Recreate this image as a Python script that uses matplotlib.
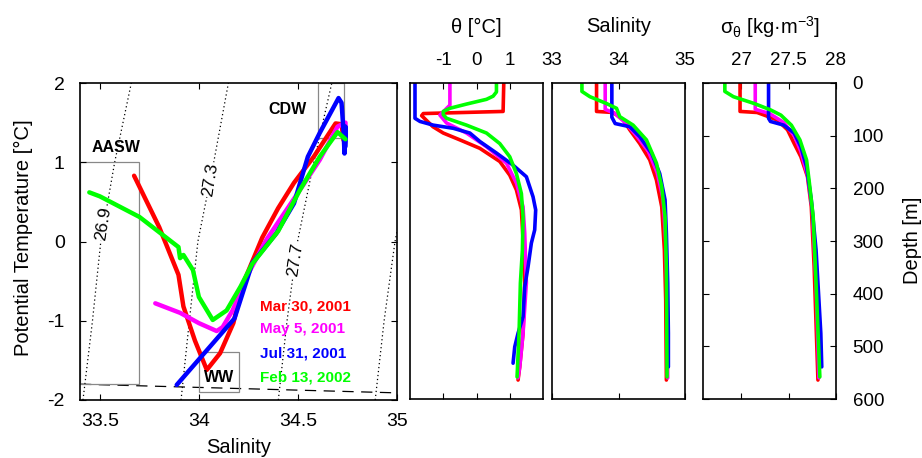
import matplotlib
matplotlib.use("Agg")
import matplotlib.pyplot as plt
from matplotlib.patches import Rectangle

plt.rcParams['font.family'] = ['Liberation Sans', 'DejaVu Sans']
plt.rcParams['mathtext.fontset'] = 'custom'
plt.rcParams['mathtext.rm'] = 'Liberation Sans'
plt.rcParams['mathtext.it'] = 'Liberation Sans:italic'
plt.rcParams['mathtext.bf'] = 'Liberation Sans:bold'

# ---------------- data ----------------
dates = ["Mar 30, 2001", "May 5, 2001", "Jul 31, 2001", "Feb 13, 2002"]
colors = ["#ff0000", "#ff00ff", "#0000ff", "#00ff00"]

# T-S diagram (salinity, potential temperature)
ts_mar_S = [33.673, 33.80, 33.897, 33.922, 33.98, 34.04, 34.107, 34.174, 34.22, 34.32, 34.40, 34.48, 34.58, 34.69, 34.72, 34.73]
ts_mar_T = [0.83, 0.18, -0.42, -0.82, -1.25, -1.62, -1.41, -1.03, -0.55, 0.05, 0.42, 0.74, 1.07, 1.49, 1.48, 1.28]
ts_may_S = [33.78, 33.905, 34.0, 34.09, 34.12, 34.17, 34.24, 34.34, 34.51, 34.61, 34.70, 34.74, 34.74]
ts_may_T = [-0.78, -0.90, -1.03, -1.13, -1.08, -0.87, -0.45, 0.02, 0.65, 1.03, 1.45, 1.50, 1.30]
ts_jul_S = [33.888, 34.18, 34.27, 34.39, 34.48, 34.55, 34.61, 34.705, 34.72, 34.73, 34.735, 34.74, 34.74]
ts_jul_T = [-1.81, -0.97, -0.27, 0.10, 0.48, 1.07, 1.37, 1.81, 1.75, 1.40, 1.11, 1.45, 1.20]
ts_feb_S = [33.447, 33.50, 33.70, 33.897, 33.905, 33.922, 33.97, 34.00, 34.07, 34.14, 34.21, 34.27, 34.40, 34.51, 34.61, 34.70, 34.74]
ts_feb_T = [0.62, 0.57, 0.31, -0.07, -0.21, -0.17, -0.36, -0.70, -0.99, -0.87, -0.57, -0.28, 0.13, 0.65, 1.07, 1.38, 1.29]

# isopycnals (sigma-theta) at T = -2..2
iso_T = [-2, -1, 0, 1, 2]
iso_levels = ["26.9", "27.3", "27.7", "28.1"]
iso_S = [
    [33.415, 33.463, 33.505, 33.575, 33.659],
    [33.910, 33.952, 33.995, 34.075, 34.149],
    [34.401, 34.445, 34.498, 34.580, 34.671],
    [34.890, 34.935, 34.990, 35.070, 35.160],
]
iso_label_pos = [(33.516, 0.23), (34.057, 0.78), (34.486, -0.23)]

# freezing line
frz_S = [33.4, 35.0]
frz_T = [-1.80, -1.91]

# water-mass boxes: (S0, T0, S1, T1)
boxes = {"AASW": (33.40, -1.80, 33.70, 1.00),
         "WW": (34.00, -1.90, 34.20, -1.39),
         "CDW": (34.60, 1.30, 34.735, 2.00)}
box_labels = {"AASW": (33.58, 1.18), "WW": (34.10, -1.72), "CDW": (34.445, 1.66)}

# profiles: depth [m]
th_mar_d = [0, 54, 58, 62, 83, 95, 108, 124, 149, 175, 203, 241, 298, 380, 475, 539, 564]
th_mar_v = [0.82, 0.80, -1.60, -1.65, -1.31, -1.0, -0.5, 0.1, 0.7, 1.0, 1.2, 1.35, 1.4, 1.45, 1.4, 1.3, 1.25]
th_may_d = [0, 42, 61, 76, 95, 121, 152, 190, 235, 285, 380, 475, 539, 560]
th_may_v = [-0.8, -0.8, -1.1, -0.9, -0.3, 0.3, 0.9, 1.2, 1.4, 1.45, 1.5, 1.4, 1.3, 1.25]
th_jul_d = [0, 67, 73, 80, 86, 95, 111, 133, 156, 178, 216, 241, 279, 304, 349, 387, 444, 475, 501, 532]
th_jul_v = [-1.85, -1.85, -1.7, -1.3, -0.7, -0.2, 0.1, 0.6, 1.1, 1.5, 1.7, 1.78, 1.75, 1.65, 1.55, 1.45, 1.4, 1.25, 1.15, 1.1]
th_feb_d = [0, 17, 25, 31, 40, 48, 54, 60, 67, 80, 95, 115, 140, 172, 210, 254, 317, 380, 475, 558]
th_feb_v = [0.6, 0.6, 0.5, 0.3, -0.3, -0.8, -1.0, -1.0, -0.9, -0.3, 0.3, 0.7, 1.0, 1.2, 1.35, 1.4, 1.38, 1.32, 1.28, 1.22]

sa_mar_d = [0, 54, 56, 70, 89, 115, 146, 184, 235, 317, 412, 564]
sa_mar_v = [33.67, 33.67, 33.92, 34.07, 34.17, 34.32, 34.47, 34.57, 34.65, 34.69, 34.71, 34.72]
sa_may_d = [0, 50, 58, 75, 100, 130, 170, 220, 300, 400, 560]
sa_may_v = [33.80, 33.80, 33.95, 34.10, 34.27, 34.45, 34.58, 34.67, 34.71, 34.73, 34.74]
sa_jul_d = [0, 65, 77, 83, 102, 134, 172, 222, 285, 380, 475, 539]
sa_jul_v = [33.90, 33.90, 33.95, 34.17, 34.32, 34.50, 34.62, 34.70, 34.72, 34.74, 34.75, 34.75]
sa_feb_d = [0, 16, 26, 39, 48, 64, 80, 108, 152, 197, 254, 349, 558]
sa_feb_v = [33.45, 33.45, 33.57, 33.82, 33.97, 34.02, 34.22, 34.42, 34.57, 34.65, 34.70, 34.72, 34.73]

sg_mar_d = [0, 54, 56, 70, 89, 115, 140, 178, 235, 349, 564]
sg_mar_v = [26.99, 26.99, 27.17, 27.38, 27.49, 27.56, 27.63, 27.70, 27.74, 27.77, 27.81]
sg_may_d = [0, 50, 58, 75, 100, 130, 175, 240, 380, 560]
sg_may_v = [27.15, 27.15, 27.30, 27.45, 27.56, 27.63, 27.70, 27.75, 27.79, 27.82]
sg_jul_d = [0, 67, 73, 80, 95, 121, 159, 222, 317, 475, 539]
sg_jul_v = [27.29, 27.29, 27.31, 27.45, 27.56, 27.63, 27.69, 27.74, 27.79, 27.84, 27.85]
sg_feb_d = [0, 16, 26, 39, 51, 61, 80, 108, 146, 190, 254, 380, 558]
sg_feb_v = [26.83, 26.83, 26.92, 27.14, 27.31, 27.42, 27.53, 27.62, 27.69, 27.72, 27.76, 27.79, 27.83]

# ---------------- figure ----------------
W, H = 922, 458
fig = plt.figure(figsize=(W / 100, H / 100), dpi=100)


def pos(x0, x1, ytop, ybot):
    return [x0 / W, 1 - ybot / H, (x1 - x0) / W, (ybot - ytop) / H]


TICK_FS = 14
LAB_FS = 14.5

ax = fig.add_axes(pos(80, 397, 83, 400))
ts_S = [ts_mar_S, ts_may_S, ts_jul_S, ts_feb_S]
ts_T = [ts_mar_T, ts_may_T, ts_jul_T, ts_feb_T]

for sl in iso_S:
    ax.plot(sl, iso_T, color='black', lw=0.9, linestyle=(0, (1, 2.2)), zorder=1)
for (s, t), lab in zip(iso_label_pos, iso_levels):
    ax.text(s, t, lab, rotation=81, fontsize=12.5, ha='center', va='center',
            bbox=dict(facecolor='white', edgecolor='none', pad=0.5), zorder=2)
ax.plot(frz_S, frz_T, color='black', lw=0.9, linestyle=(0, (9, 6)), zorder=1)
for name, (s0, t0, s1, t1) in boxes.items():
    ax.add_patch(Rectangle((s0, t0), s1 - s0, t1 - t0, fill=False,
                           edgecolor='#888888', lw=0.9, zorder=1))
    bx, by = box_labels[name]
    ax.text(bx, by, name, fontsize=11.5, fontweight='bold', ha='center', va='center', zorder=5)

for S, T, c in zip(ts_S, ts_T, colors):
    ax.plot(S, T, color=c, lw=3.2, solid_capstyle='round', solid_joinstyle='round', zorder=3)

leg_T = [-0.82, -1.11, -1.41, -1.71]
for d, c, t in zip(dates, colors, leg_T):
    ax.text(34.31, t, d, color=c, fontsize=11, fontweight='bold', ha='left', va='center', zorder=5)

ax.set_xlim(33.4, 35.0)
ax.set_ylim(-2, 2)
ax.set_xticks([33.5, 34, 34.5, 35])
ax.set_xticklabels(["33.5", "34", "34.5", "35"])
ax.set_yticks([-2, -1, 0, 1, 2])
ax.set_yticklabels(["-2", "-1", "0", "1", "2"])
ax.tick_params(direction='in', length=4, width=0.8, top=True, right=True,
               labelsize=TICK_FS)
ax.tick_params(axis='x', pad=9)
ax.tick_params(axis='y', pad=11)
for sp in ax.spines.values():
    sp.set_linewidth(1.2)

fig.text(23 / W, 1 - 238 / H, "Potential Temperature [°C]", rotation=90,
         fontsize=LAB_FS, ha='center', va='center')
fig.text(239 / W, 1 - 457 / H, "Salinity", fontsize=LAB_FS, ha='center', va='bottom')

# ---------------- profiles ----------------
panels = [
    (410, 543, [th_mar_d, th_may_d, th_jul_d, th_feb_d], [th_mar_v, th_may_v, th_jul_v, th_feb_v],
     (-2, 2), [-1, 0, 1], ["-1", "0", "1"], "θ [°C]"),
    (552, 685, [sa_mar_d, sa_may_d, sa_jul_d, sa_feb_d], [sa_mar_v, sa_may_v, sa_jul_v, sa_feb_v],
     (33, 35), [33, 34, 35], ["33", "34", "35"], "Salinity"),
    (703, 836, [sg_mar_d, sg_may_d, sg_jul_d, sg_feb_d], [sg_mar_v, sg_may_v, sg_jul_v, sg_feb_v],
     (26.6, 28), [27, 27.5, 28], ["27", "27.5", "28"], r"σ$_{\mathrm{θ}}$ [kg·m$^{\mathrm{-3}}$]"),
]
for i, (x0, x1, ds, vs, xl, xt, xtl, title) in enumerate(panels):
    a = fig.add_axes(pos(x0, x1, 83, 399))
    for d, v, c in zip(ds, vs, colors):
        a.plot(v, d, color=c, lw=2.6, solid_joinstyle='round', solid_capstyle='round')
    a.set_xlim(*xl)
    a.set_ylim(600, 0)
    a.set_xticks(xt)
    a.set_xticklabels(xtl)
    a.xaxis.tick_top()
    a.tick_params(axis='x', direction='in', length=4, width=0.8, top=True, bottom=True,
                  labeltop=True, labelbottom=False, labelsize=TICK_FS - 0.5, pad=10)
    a.set_yticks([0, 100, 200, 300, 400, 500, 600])
    if i == 2:
        a.yaxis.tick_right()
        a.tick_params(axis='y', direction='in', length=4, width=0.8, left=True, right=True,
                      labelright=True, labelleft=False, labelsize=TICK_FS - 0.5, pad=12)
    else:
        a.tick_params(axis='y', left=False, right=False, labelleft=False)
    for sp in a.spines.values():
        sp.set_linewidth(1.2)
    fig.text((x0 + x1) / 2 / W, 1 - 27 / H, title, fontsize=LAB_FS, ha='center', va='center')

fig.text(912 / W, 1 - 240 / H, "Depth [m]", rotation=90, fontsize=LAB_FS,
         ha='center', va='center')

fig.savefig("out.png", dpi=100)
